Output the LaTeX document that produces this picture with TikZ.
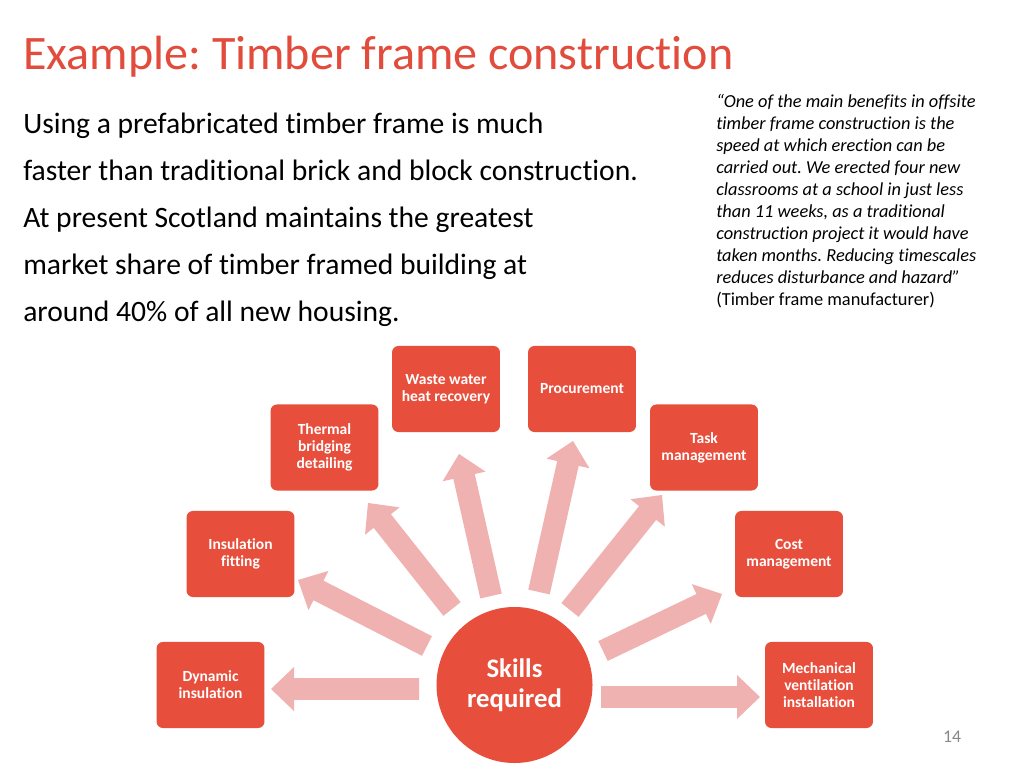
\documentclass[tikz,border=0pt]{standalone}
\usepackage{fontspec}
\setmainfont{Carlito}[Ligatures=NoCommon]
\usetikzlibrary{calc}
\frenchspacing
\definecolor{boxred}{RGB}{232,78,60}
\definecolor{titlered}{RGB}{226,76,60}
\definecolor{arrowpink}{RGB}{240,178,176}
\definecolor{pagegray}{RGB}{137,137,137}
% #1 tail coordinate, #2 tip coordinate
\newcommand\blockarrow[2]{%
  \coordinate (#1-h) at ($(#2)!16.17pt!(#1)$);
  \fill[arrowpink]
    ($(#1)!7.73pt!90:(#2)$) --
    ($(#1-h)!7.73pt!90:(#2)$) --
    ($(#1-h)!15.47pt!90:(#2)$) --
    (#2) --
    ($(#1-h)!15.47pt!-90:(#2)$) --
    ($(#1-h)!7.73pt!-90:(#2)$) --
    ($(#1)!7.73pt!-90:(#2)$) -- cycle;
}
\begin{document}
\frenchspacing
\begin{tikzpicture}[x=0.703125pt,y=-0.703125pt,
  skillbox/.style={fill=boxred, draw=none, rounded corners=4.5pt,
    minimum width=75.9pt, minimum height=60.5pt, inner sep=1pt,
    align=center, text=white,
    font=\fontsize{10.9}{12}\selectfont\bfseries},
  hub/.style={circle, fill=boxred, draw=none, minimum size=109.7pt,
    inner sep=0pt, align=center, text=white,
    font=\fontsize{18.8}{21}\selectfont\bfseries},
  bodyline/.style={anchor=base west, inner sep=0pt,
    font=\fontsize{20.8}{24}\selectfont},
  quoteline/.style={anchor=base west, inner sep=0pt,
    font=\fontsize{12.9}{15}\selectfont\itshape},
  titletext/.style={anchor=base west, inner sep=0pt, text=titlered,
    font=\fontsize{33.8}{40}\selectfont}]
\useasboundingbox[fill=white] (0,0) rectangle (1024,768);

% title
\node[titletext] (title) at (23,70) {Example: Timber frame construction};

% body text
\node[bodyline] (b1) at (23,134) {Using a prefabricated timber frame is much};
\node[bodyline] (b2) at (23,181) {faster than traditional brick and block construction.};
\node[bodyline] (b3) at (23,228) {At present Scotland maintains the greatest};
\node[bodyline] (b4) at (23,275) {market share of timber framed building at};
\node[bodyline] (b5) at (23,322) {around 40\% of all new housing.};

% quote
\node[quoteline] (q1) at (716,108) {“One of the main benefits in offsite};
\node[quoteline] (q2) at (716,130) {timber frame construction is the};
\node[quoteline] (q3) at (716,152) {speed at which erection can be};
\node[quoteline] (q4) at (716,174) {carried out. We erected four new};
\node[quoteline] (q5) at (716,196) {classrooms at a school in just less};
\node[quoteline] (q6) at (716,218) {than 11 weeks, as a traditional};
\node[quoteline] (q7) at (716,240) {construction project it would have};
\node[quoteline] (q8) at (716,262) {taken months. Reducing timescales};
\node[quoteline] (q9) at (716,284) {reduces disturbance and hazard”};
\node[quoteline, font=\fontsize{12.9}{15}\selectfont] (q10) at (716,306) {(Timber frame manufacturer)};

% arrows (tail, tip)
\coordinate (ta) at (419,689); \coordinate (pa) at (271,689);
\coordinate (tb) at (427,646); \coordinate (pb) at (298,580);
\coordinate (tc) at (452,609); \coordinate (pc) at (368,503);
\coordinate (td) at (491,596); \coordinate (pd) at (459,454);
\coordinate (te) at (539,592); \coordinate (pe) at (573,441);
\coordinate (tf) at (570,610); \coordinate (pf) at (662,495);
\coordinate (tg) at (603,651); \coordinate (pg) at (722,594);
\coordinate (th) at (601,697); \coordinate (ph) at (760,697);
\blockarrow{ta}{pa}
\blockarrow{tb}{pb}
\blockarrow{tc}{pc}
\blockarrow{td}{pd}
\blockarrow{te}{pe}
\blockarrow{tf}{pf}
\blockarrow{tg}{pg}
\blockarrow{th}{ph}

% boxes
\node[skillbox] (waste) at (446,389) {Waste water\\heat recovery};
\node[skillbox] (proc) at (582,389) {Procurement};
\node[skillbox] (thermal) at (324.5,447.5) {Thermal\\bridging\\detailing};
\node[skillbox] (task) at (704,447.5) {Task\\management};
\node[skillbox] (insul) at (240.5,554) {Insulation\\fitting};
\node[skillbox] (cost) at (789,554) {Cost\\management};
\node[skillbox] (dyn) at (210.5,685) {Dynamic\\insulation};
\node[skillbox] (mech) at (819,685) {Mechanical\\ventilation\\installation};

% hub
\node[hub] (skills) at (514.5,685) {Skills\\required};

% page number
\node[inner sep=0pt, text=pagegray, font=\fontsize{12.5}{14}\selectfont] (page) at (952,737) {14};
\end{tikzpicture}
\end{document}
